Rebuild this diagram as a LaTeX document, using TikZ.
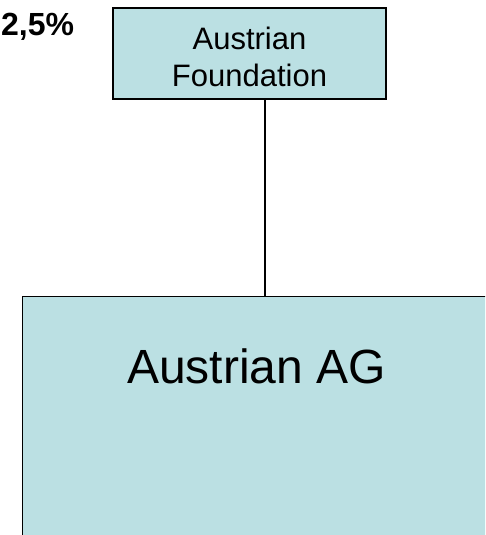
\documentclass[tikz,border=0pt]{standalone}
\usepackage{fontspec}
\setmainfont{Liberation Sans}
\usetikzlibrary{positioning, calc}
\definecolor{BoxFill}{RGB}{187,224,227}

\begin{document}
\begin{tikzpicture}[
    x=1pt, y=-1pt,
    orgbox/.style={rectangle, draw=black, fill=BoxFill, line width=1.2pt,
                   inner sep=0pt, align=center},
    conn/.style={draw=black, line width=1.2pt}
  ]
    \useasboundingbox (0,0) rectangle (485,535);
    \clip (0,0) rectangle (485,535);
    % holding entity at the top
    \node[orgbox, minimum width=273pt, minimum height=91pt,
          text height=66pt, text depth=0pt,
          font=\fontsize{31}{37}\selectfont] (found) at (249.5,53.5)
      {Austrian\\Foundation};
    % share label
    \node[anchor=base west, inner sep=0pt,
          font=\fontsize{32}{38}\selectfont\bfseries] (share) at (1,36) {2,5\%};
    % subsidiary, runs past the page edge
    \node[orgbox, minimum width=468pt, minimum height=270pt,
          anchor=north west] (ag) at (22,296) {};
    \node[anchor=base, inner sep=0pt, font=\fontsize{48}{56}\selectfont]
      (aglabel) at ([yshift=-87pt]ag.north) {Austrian AG};
    \coordinate (tap) at ([xshift=15.5pt]found.south);
    \draw[conn] (tap) -- (tap |- ag.north);
\end{tikzpicture}
\end{document}
